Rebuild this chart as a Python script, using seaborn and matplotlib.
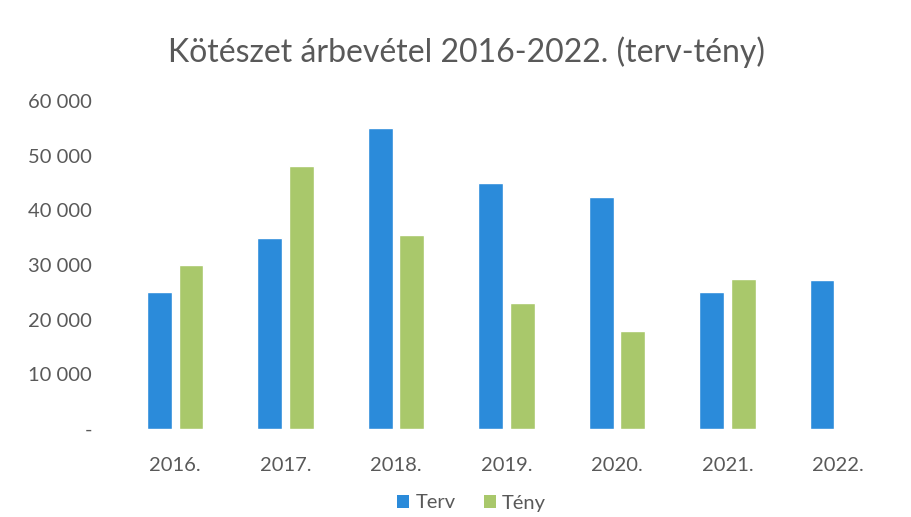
import matplotlib
matplotlib.use("Agg")
import matplotlib.pyplot as plt
import matplotlib.ticker as mticker
from matplotlib.patches import Patch
import pandas as pd
import seaborn as sns

years = ["2016.", "2017.", "2018.", "2019.", "2020.", "2021.", "2022."]
terv = [25000, 35000, 55000, 45000, 42400, 25000, 27300]
teny = [30000, 48100, 35400, 23000, 18000, 27400, None]
series = ["Terv", "Tény"]
colors = {"Terv": "#2B8BDA", "Tény": "#A9C86B"}

rows = []
for y, a, b in zip(years, terv, teny):
    rows.append({"ev": y, "sor": "Terv", "ertek": a})
    rows.append({"ev": y, "sor": "Tény", "ertek": b})
df = pd.DataFrame(rows)

sns.set_theme(style="white")
plt.rcParams["font.family"] = ["Lato", "DejaVu Sans"]

fig = plt.figure(figsize=(9.12, 5.17), dpi=100)
ax = fig.add_axes([120 / 912, 1 - 429 / 517, 773 / 912, 328 / 517])

sns.barplot(data=df, x="ev", y="ertek", hue="sor", hue_order=series,
            palette=colors, width=0.57, gap=0.21, ax=ax,
            saturation=1, errorbar=None, legend=False)

ax.set_ylim(0, 60000)
ax.set_xlim(-0.5, len(years) - 0.5)
ax.yaxis.set_major_locator(mticker.MultipleLocator(10000))


def fmt(v, pos):
    if v == 0:
        return "-"
    return f"{int(v):,}".replace(",", " ")


ax.yaxis.set_major_formatter(mticker.FuncFormatter(fmt))
ax.set_xlabel("")
ax.set_ylabel("")
for s in ax.spines.values():
    s.set_visible(False)
ax.tick_params(axis="both", length=0, labelsize=14.5, colors="#595959")
ax.tick_params(axis="y", pad=20)
ax.tick_params(axis="x", pad=20)

fig.text(0.512, 1 - 52 / 517, "Kötészet árbevétel 2016-2022. (terv-tény)",
         ha="center", va="center", fontsize=23, color="#595959")

handles = [Patch(facecolor=colors[s], edgecolor="none") for s in series]
fig.legend(handles, series, loc="center", bbox_to_anchor=(0.517, 1 - 503 / 517),
           ncol=2, frameon=False, fontsize=14.5, labelcolor="#595959",
           handlelength=0.6, handleheight=0.6, handletextpad=0.3,
           columnspacing=1.4, borderpad=0.1)

fig.savefig("out.png", dpi=100)
